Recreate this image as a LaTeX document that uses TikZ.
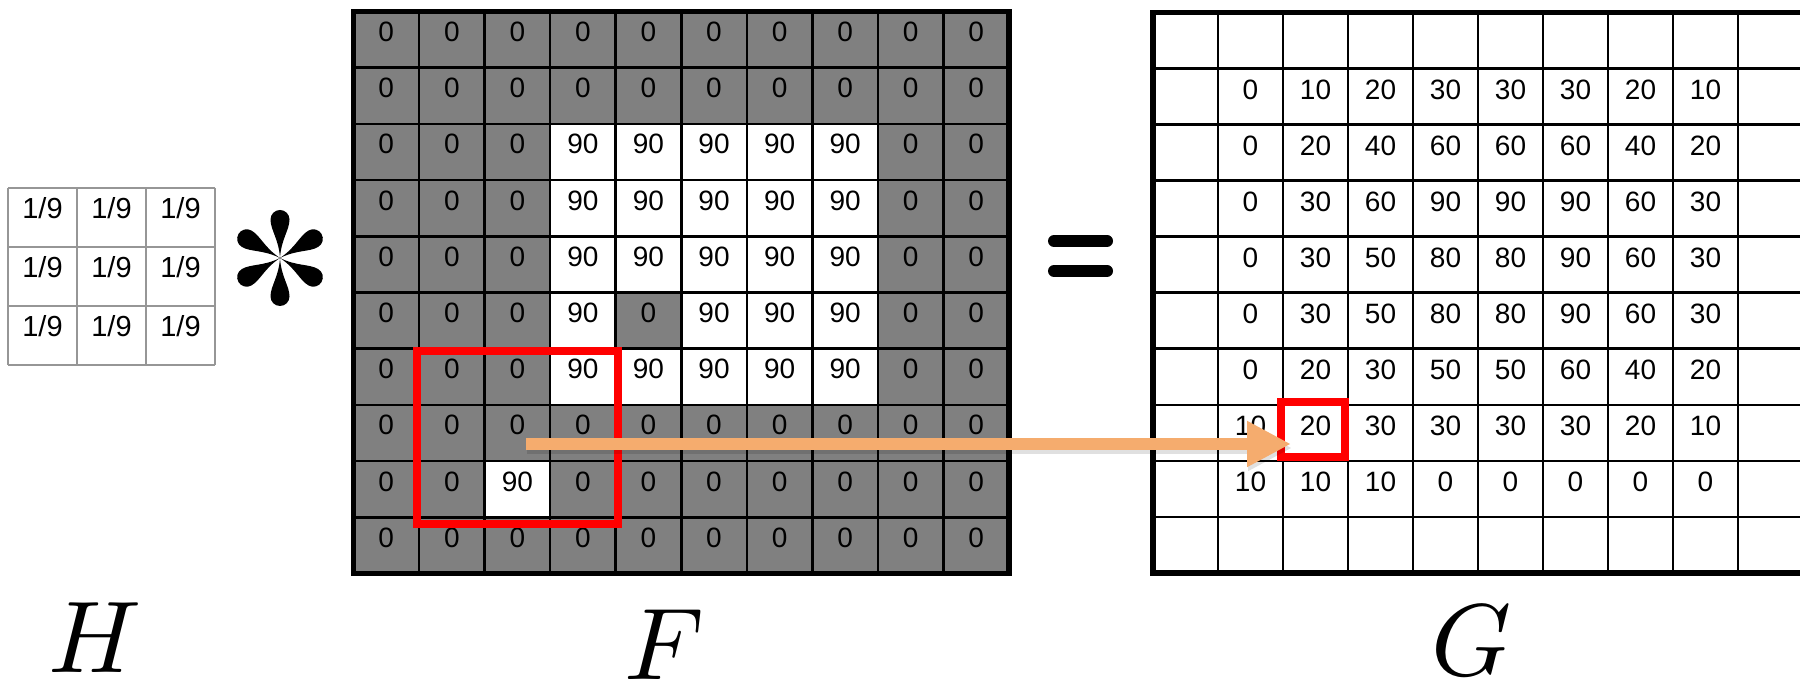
\documentclass[tikz,border=0pt]{standalone}
\usepackage{fontspec}
\newfontfamily\lib{Liberation Sans}
\usetikzlibrary{arrows.meta}
\definecolor{cellgray}{RGB}{128,128,128}
\definecolor{arroworange}{RGB}{245,172,110}
\definecolor{hline}{RGB}{150,150,150}
\begin{document}
\begin{tikzpicture}[x=0.5pt,y=-0.5pt,
  celltxt/.style={font=\lib\fontsize{14}{14}\selectfont, inner sep=0pt, anchor=base},
  htxt/.style={font=\lib\fontsize{14.5}{14.5}\selectfont, inner sep=0pt, anchor=base},
  gridline/.style={black, line width=1.3pt},
  border/.style={black, line width=2.6pt},
  hgrid/.style={hline, line width=0.8pt},
  redbox/.style={red, line width=4pt},
  arrowline/.style={arroworange, line width=6pt, -{Triangle[length=22pt,width=21.5pt]}},
  lab/.style={font=\fontsize{10}{12}\selectfont, inner sep=0pt, anchor=base, scale=5.1},
  eqbar/.style={black, line width=6pt, line cap=round}]
\useasboundingbox (0,0) rectangle (1800,683);
\clip (0,0) rectangle (1800,683);
% ---------------- F ----------------
\def\FX{353.5}\def\FW{65.55}\def\FY{11.5}\def\FH{56.2}
\foreach \row [count=\r from 0] in {
 {0,0,0,0,0,0,0,0,0,0},
 {0,0,0,0,0,0,0,0,0,0},
 {0,0,0,90,90,90,90,90,0,0},
 {0,0,0,90,90,90,90,90,0,0},
 {0,0,0,90,90,90,90,90,0,0},
 {0,0,0,90,0,90,90,90,0,0},
 {0,0,0,90,90,90,90,90,0,0},
 {0,0,0,0,0,0,0,0,0,0},
 {0,0,90,0,0,0,0,0,0,0},
 {0,0,0,0,0,0,0,0,0,0}}{
  \foreach \v [count=\c from 0] in \row {
    \ifnum\v=90 \def\fc{white}\else\def\fc{cellgray}\fi
    \fill[\fc] ({\FX+\c*\FW},{\FY+\r*\FH}) rectangle ++(\FW,\FH);
  }
}
\foreach \k in {1,...,9}{
  \draw[gridline] ({\FX+\k*\FW},\FY) -- ({\FX+\k*\FW},{\FY+10*\FH});
  \draw[gridline] (\FX,{\FY+\k*\FH}) -- ({\FX+10*\FW},{\FY+\k*\FH});
}
\draw[border] (\FX,\FY) rectangle ({\FX+10*\FW},{\FY+10*\FH});
\foreach \row [count=\r from 0] in {
 {0,0,0,0,0,0,0,0,0,0},
 {0,0,0,0,0,0,0,0,0,0},
 {0,0,0,90,90,90,90,90,0,0},
 {0,0,0,90,90,90,90,90,0,0},
 {0,0,0,90,90,90,90,90,0,0},
 {0,0,0,90,0,90,90,90,0,0},
 {0,0,0,90,90,90,90,90,0,0},
 {0,0,0,0,0,0,0,0,0,0},
 {0,0,90,0,0,0,0,0,0,0},
 {0,0,0,0,0,0,0,0,0,0}}{
  \foreach \v [count=\c from 0] in \row {
    \node[celltxt] (f-\r-\c) at ({\FX+(\c+0.5)*\FW},{\FY+(\r+0.5)*\FH+2}) {\v};
  }
}
\draw[redbox] (417,351.5) rectangle (618,524);
% ---------------- G ----------------
\def\GX{1153}\def\GW{65}\def\GY{12.5}\def\GH{56.05}
\foreach \k in {1,...,9}{
  \draw[gridline] ({\GX+\k*\GW},\GY) -- ({\GX+\k*\GW},{\GY+10*\GH});
  \draw[gridline] (\GX,{\GY+\k*\GH}) -- ({\GX+10*\GW},{\GY+\k*\GH});
}
\draw[border] (\GX,\GY) rectangle ({\GX+10*\GW},{\GY+10*\GH});
\foreach \row [count=\r from 1] in {
 {0,10,20,30,30,30,20,10},
 {0,20,40,60,60,60,40,20},
 {0,30,60,90,90,90,60,30},
 {0,30,50,80,80,90,60,30},
 {0,30,50,80,80,90,60,30},
 {0,20,30,50,50,60,40,20},
 {10,20,30,30,30,30,20,10},
 {10,10,10,0,0,0,0,0}}{
  \foreach \v [count=\c from 1] in \row {
    \node[celltxt] (g-\r-\c) at ({\GX+(\c+0.5)*\GW},{\GY+(\r+0.5)*\GH+2.5}) {\v};
  }
}
\draw[redbox] (1281,402) rectangle (1344.5,457.5);
% ---------------- arrow ----------------
\coordinate (arrowstart) at (526,444);
\coordinate (arrowend) at (1291,444);
\draw[arrowline, draw=black, fill=black, opacity=0.12] ([shift={(1,4)}]arrowstart) -- ([shift={(1,4)}]arrowend);
\draw[arrowline] (arrowstart) -- (arrowend);
% ---------------- H ----------------
\def\HX{8}\def\HW{69}\def\HY{188}\def\HH{59}
\foreach \k in {0,...,3}{
  \draw[hgrid] ({\HX+\k*\HW},\HY) -- ({\HX+\k*\HW},{\HY+3*\HH});
  \draw[hgrid] (\HX,{\HY+\k*\HH}) -- ({\HX+3*\HW},{\HY+\k*\HH});
}
\foreach \r in {0,1,2}{
  \foreach \c in {0,1,2}{
    \node[htxt] (h-\r-\c) at ({\HX+(\c+0.5)*\HW},{\HY+(\r+0.5)*\HH+1}) {1/9};
  }
}
% ---------------- asterisk ----------------
\begin{scope}[shift={(280,258)}]
\foreach \a in {30,90,150,210,270,330}{
  \fill[black, rotate=\a] (0,0) .. controls (19,1.2) and (28,9.5) .. (38.5,9.5)
    arc[start angle=90, end angle=-90, radius=9.5]
    .. controls (28,-9.5) and (19,-1.2) .. (0,0);
}
\end{scope}
% ---------------- equals ----------------
\draw[eqbar] (1054,241) -- (1107,241);
\draw[eqbar] (1054,271) -- (1107,271);
% ---------------- labels ----------------
\node[lab] (labH) at (95,673) {$H$};
\node[lab] (labF) at (664,680) {$F$};
\node[lab] (labG) at (1472,676) {$G$};
\end{tikzpicture}
\end{document}
